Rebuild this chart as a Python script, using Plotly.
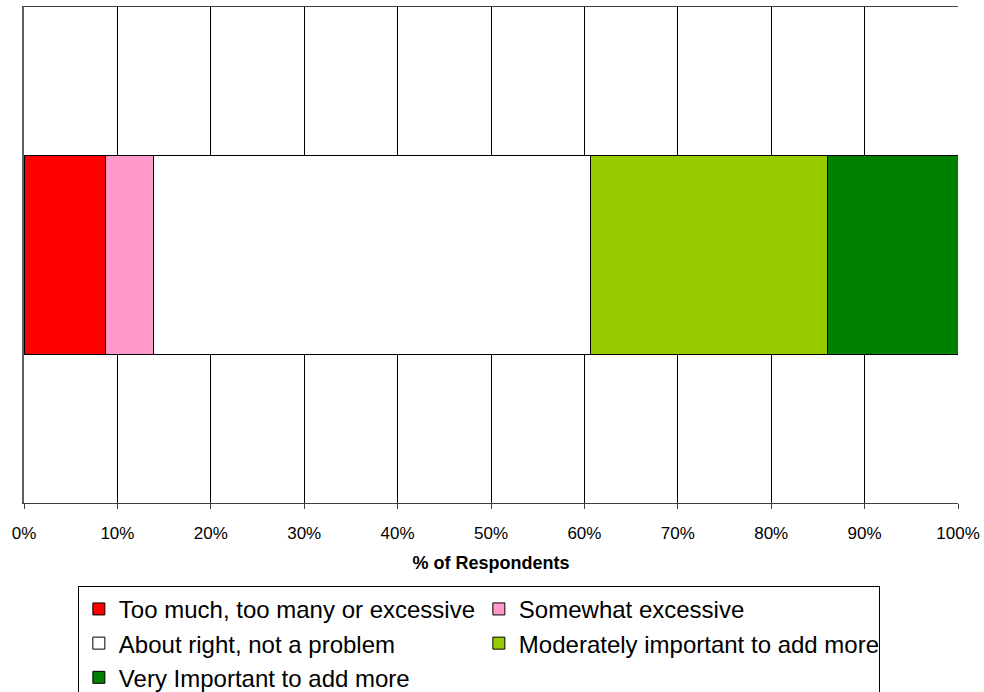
import plotly.graph_objects as go

categories = [""]
series_names = ["Too much, too many or excessive", "Somewhat excessive",
                "About right, not a problem", "Moderately important to add more",
                "Very Important to add more"]
series_values = [8.7, 5.2, 46.7, 25.4, 14.0]
series_colors = ["#FF0000", "#FF99CC", "#FFFFFF", "#99CC00", "#008000"]
tick_vals = [0, 10, 20, 30, 40, 50, 60, 70, 80, 90, 100]
tick_text = [f"{v}%" for v in tick_vals]

FONT = "Liberation Sans, Arial, sans-serif"

fig = go.Figure()
for name, val, col in zip(series_names, series_values, series_colors):
    fig.add_trace(go.Bar(
        y=categories, x=[val], name=name, orientation="h",
        marker=dict(color=col, line=dict(color="black", width=1)),
        width=0.402,
    ))

fig.update_layout(
    barmode="stack",
    width=984, height=692,
    margin=dict(l=24, r=26, t=7, b=189, autoexpand=False),
    paper_bgcolor="white", plot_bgcolor="white",
    font=dict(family=FONT, color="black"),
    xaxis=dict(
        range=[0, 100], tickvals=tick_vals, ticktext=tick_text,
        showgrid=True, gridcolor="black", gridwidth=1,
        showline=True, linecolor="#404040", linewidth=1, mirror=True,
        ticks="outside", ticklen=5, tickcolor="#404040",
        ticklabelstandoff=10,
        tickfont=dict(size=17, family=FONT),
        title=dict(text="<b>% of Respondents</b>", font=dict(size=18, family=FONT), standoff=13),
        zeroline=False, automargin=False,
    ),
    yaxis=dict(
        range=[-0.5, 0.5], showticklabels=False, showgrid=False,
        showline=True, linecolor="#606060", linewidth=2, ticks="",
        zeroline=False, automargin=False,
    ),
    legend=dict(
        orientation="h", x=0.487, xanchor="center", y=-0.167, yanchor="top",
        entrywidth=355, entrywidthmode="pixels",
        bordercolor="black", borderwidth=1,
        font=dict(size=24, family=FONT),
        itemclick=False, traceorder="normal",
    ),
    showlegend=True,
)

fig.write_html("out.html")
